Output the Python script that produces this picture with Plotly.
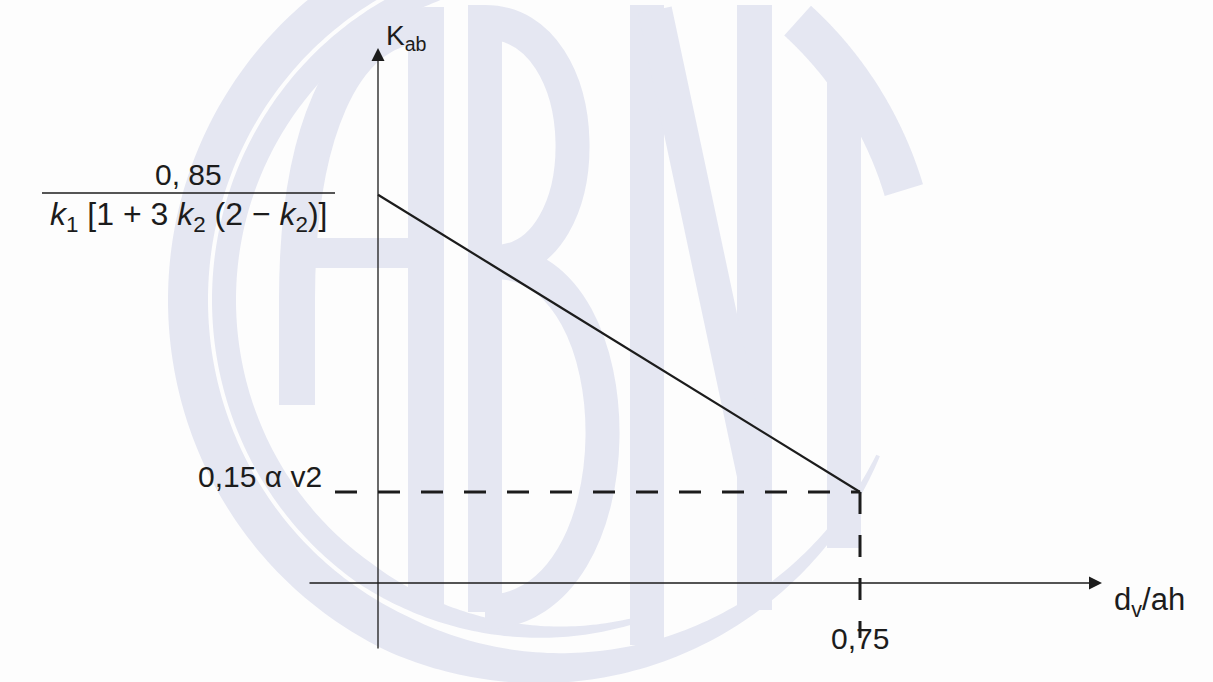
import numpy as np
import plotly.graph_objects as go

# ---------------- data (schematic values) ----------------
dv_ah = [0.0, 0.75]            # abscissa d_v / a_h
kab = [0.64, 0.15]             # K_ab at start (0,85/...) and at 0,75 (0,15 alpha_v2)
x_tick_value = 0.75
x_tick_label = "0,75"
y_low_label = "0,15 α v2"
frac_num = "0, 85"
frac_den = "<i>k</i><sub>1</sub> [1 + 3 <i>k</i><sub>2</sub> (2 − <i>k</i><sub>2</sub>)]"
y_title = "K<sub>ab</sub>"
x_title = "d<sub>v</sub>/ah"

# ---------------- layout geometry ----------------
W, H = 1213, 682
X0_PX, X075_PX = 378, 860          # pixel columns of x=0 and x=0.75
Y0_PX, Y015_PX = 583, 492          # pixel rows of y=0 and y=0.15
sx = 0.75 / (X075_PX - X0_PX)      # data units per px (x)
sy = 0.15 / (Y0_PX - Y015_PX)      # data units per px (y)
def dx(px):
    return (px - X0_PX) * sx
def dy(py):
    return (Y0_PX - py) * sy

xr = [dx(0), dx(W)]
yr = [dy(H), dy(0)]

INK = "#1c1c1c"
WM = "#e5e7f2"
FONT = "Liberation Sans"

fig = go.Figure()

# ---------------- watermark (decoration, paper coords) ----------------
def P(px, py):
    return f"{px / W:.5f},{1 - py / H:.5f}"

shapes = []

def ring(cx, cy, rx, ry, a0, a1, w, taper_from, w_end):
    deg = np.linspace(a0, a1, 240)
    ang = np.radians(deg)
    ww = np.where(deg < taper_from, w,
                  w + (w_end - w) * (deg - taper_from) / max(a1 - taper_from, 1e-9))
    outer = [(cx + (rx + h / 2) * np.cos(a), cy - (ry + h / 2) * np.sin(a)) for a, h in zip(ang, ww)]
    inner = [(cx + (rx - h / 2) * np.cos(a), cy - (ry - h / 2) * np.sin(a)) for a, h in zip(ang, ww)]
    pts = outer + inner[::-1]
    path = "M " + " L ".join(P(x, y) for x, y in pts) + " Z"
    shapes.append(dict(type="path", path=path, xref="paper", yref="paper",
                       fillcolor=WM, line=dict(width=0), layer="below"))

ring(550, 300, 362, 368, 105, 335, 40, 245, 4)
ring(550, 300, 326, 332, 105, 290, 24, 235, 4)
ring(550, 300, 370, 376, 17, 48, 40, 40, 40)

def stroke(path, w=34):
    shapes.append(dict(type="path", path=path, xref="paper", yref="paper",
                       line=dict(color=WM, width=w), layer="below"))

def rect(x0, y0, x1, y1):
    shapes.append(dict(type="rect", xref="paper", yref="paper",
                       x0=x0 / W, x1=x1 / W, y0=1 - y1 / H, y1=1 - y0 / H,
                       fillcolor=WM, line=dict(width=0), layer="below"))

# A
stroke(f"M {P(297,405)} L {P(297,300)} C {P(297,140)} {P(340,25)} {P(426,25)} L {P(426,605)}", 36)
rect(300, 238, 426, 268)
# B
stroke(f"M {P(485,612)} L {P(485,22)} C {P(600,22)} {P(600,262)} {P(495,262)} "
       f"C {P(640,262)} {P(640,612)} {P(485,612)}", 34)
# N
rect(630, 5, 664, 645)
rect(737, 5, 772, 610)
stroke(f"M {P(655,10)} L {P(755,480)}", 34)
# T stem
rect(827, 70, 861, 548)

# ---------------- chart marks ----------------
fig.add_trace(go.Scatter(x=dv_ah, y=kab, mode="lines",
                         line=dict(color=INK, width=2.2), hoverinfo="skip"))
fig.add_trace(go.Scatter(x=[dx(335), x_tick_value], y=[kab[1], kab[1]], mode="lines",
                         line=dict(color=INK, width=3, dash="22px,21px"), hoverinfo="skip"))
fig.add_trace(go.Scatter(x=[x_tick_value, x_tick_value], y=[kab[1], dy(638)], mode="lines",
                         line=dict(color=INK, width=3, dash="22px,21px"), hoverinfo="skip"))

# fraction bar
shapes.append(dict(type="line", xref="x", yref="y", x0=dx(42), x1=dx(335),
                   y0=dy(193), y1=dy(193), line=dict(color=INK, width=1.6)))

annotations = [
    # y axis with arrow
    dict(x=0, y=dy(48), ax=0, ay=dy(650), xref="x", yref="y", axref="x", ayref="y",
         text="", showarrow=True, arrowhead=2, arrowsize=2, arrowwidth=1.3, arrowcolor=INK),
    # x axis with arrow
    dict(x=dx(1102), y=0, ax=dx(308), ay=0, xref="x", yref="y", axref="x", ayref="y",
         text="", showarrow=True, arrowhead=2, arrowsize=2, arrowwidth=1.3, arrowcolor=INK),
    dict(x=0, y=dy(48), xref="x", yref="y", text=y_title, showarrow=False,
         xanchor="left", yanchor="middle", xshift=6, yshift=11,
         font=dict(family=FONT, size=28, color=INK)),
    dict(x=dx(1102), y=0, xref="x", yref="y", text=x_title, showarrow=False,
         xanchor="left", yanchor="middle", xshift=10, yshift=-19,
         font=dict(family=FONT, size=31, color=INK)),
    dict(x=dx(188), y=kab[0], xref="x", yref="y", text=frac_num, showarrow=False,
         xanchor="center", yanchor="middle", yshift=20,
         font=dict(family=FONT, size=30, color=INK)),
    dict(x=dx(188), y=kab[0], xref="x", yref="y", text=frac_den, showarrow=False,
         xanchor="center", yanchor="middle", yshift=-22,
         font=dict(family=FONT, size=32, color=INK)),
    dict(x=dx(324), y=kab[1], xref="x", yref="y", text=y_low_label, showarrow=False,
         xanchor="right", yanchor="middle", yshift=16,
         font=dict(family=FONT, size=30, color=INK)),
    dict(x=x_tick_value, y=0, xref="x", yref="y", text=x_tick_label, showarrow=False,
         xanchor="center", yanchor="middle", yshift=-55,
         font=dict(family=FONT, size=30, color=INK)),
]

fig.update_layout(
    width=W, height=H,
    margin=dict(l=0, r=0, t=0, b=0),
    paper_bgcolor="#fdfdfd", plot_bgcolor="#fdfdfd",
    showlegend=False,
    xaxis=dict(visible=False, range=xr, fixedrange=True),
    yaxis=dict(visible=False, range=yr, fixedrange=True),
    shapes=shapes,
    annotations=annotations,
)

fig.write_html("out.html", config={"displayModeBar": False},
               post_script="document.body.style.margin='0';document.body.style.overflow='hidden';")
